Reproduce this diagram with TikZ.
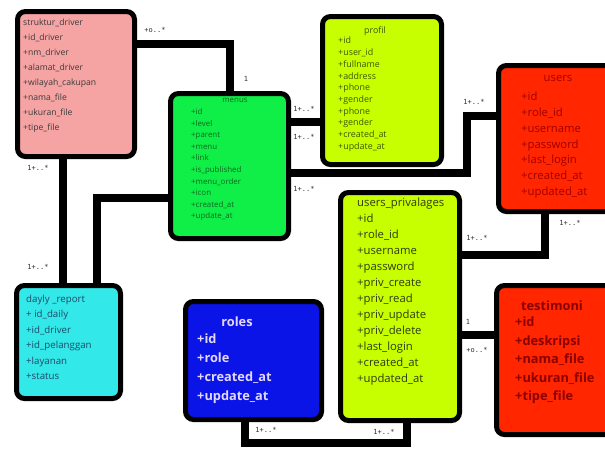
\documentclass[tikz,border=0pt]{standalone}
\usepackage{fontspec}
\setmainfont{Open Sans}
\setmonofont{DejaVu Sans Mono}
\definecolor{sdfill}{HTML}{F5A3A3}
\definecolor{sdtext}{HTML}{3A3A3A}
\definecolor{mnfill}{HTML}{10EE48}
\definecolor{mntext}{HTML}{0B6B1E}
\definecolor{prfill}{HTML}{C8FF00}
\definecolor{prtext}{HTML}{3A5A00}
\definecolor{usfill}{HTML}{FF2600}
\definecolor{ustext}{HTML}{A00000}
\definecolor{tetext}{HTML}{8B0000}
\definecolor{drfill}{HTML}{33E8E8}
\definecolor{drtext}{HTML}{1E4A6A}
\definecolor{rofill}{HTML}{0A14E6}
\definecolor{rotext}{HTML}{E2D8FF}
\definecolor{uptext}{HTML}{2E3A10}
\begin{document}
\begin{tikzpicture}[x=1pt,y=-1pt,
 tbl/.style={draw=black, line width=5pt, rounded corners=8pt, anchor=north west, inner sep=0pt},
 txt/.style={anchor=north west, inner sep=0pt, align=left},
 ttl/.style={anchor=north, inner sep=0pt},
 link/.style={line width=8pt, line cap=butt},
 mult/.style={font=\ttfamily\fontsize{7}{8}\selectfont, inner sep=0pt, text=black!80}]
\useasboundingbox[fill=white] (0,0) rectangle (605,451);

% tables
\node[tbl, fill=sdfill, minimum width=117pt, minimum height=145pt] (sd) at (15,9) {};
\node[tbl, fill=mnfill, minimum width=118pt, minimum height=145pt] (mn) at (168,91) {};
\node[tbl, fill=prfill, minimum width=119pt, minimum height=148pt] (pr) at (320,14) {};
\node[tbl, fill=usfill, minimum width=125pt, minimum height=146pt] (us) at (496,63) {};
\node[tbl, fill=usfill, minimum width=125pt, minimum height=149pt] (te) at (494,283) {};
\node[tbl, fill=drfill, minimum width=104pt, minimum height=113pt] (dr) at (14,283) {};
\node[tbl, fill=rofill, minimum width=136pt, minimum height=118pt] (ro) at (183,299) {};
\node[tbl, fill=prfill, minimum width=119pt, minimum height=228pt] (up) at (338,190) {};

% connectors
\draw[link] (sd.east |- 0,44) -| (mn.north -| 230,0);
\draw[link] (sd.south -| 63,0) -- (dr.north -| 63,0);
\draw[link] (dr.north -| 97,0) |- (mn.west |- 0,198);
\draw[link] (mn.east |- 0,122) -- (pr.west |- 0,122);
\draw[link] (mn.east |- 0,173) -- (467,173) |- (us.west |- 0,116);
\draw[link] (us.south -| 545,0) |- (up.east |- 0,255);
\draw[link] (up.east |- 0,335) -- (te.west |- 0,335);
\draw[link] (ro.south -| 245,0) -- (245,443) -| (up.south -| 407,0);

% texts
\node[txt, text=sdtext, font=\fontsize{8.6}{15}\selectfont] (sdt) at (23,19)
 {struktur\_driver\\+id\_driver\\+nm\_driver\\+alamat\_driver\\+wilayah\_cakupan\\+nama\_file\\+ukuran\_file\\+tipe\_file};
\node[ttl, text=mntext, font=\fontsize{7.9}{11.5}\selectfont] (mnh) at (235,97.5) {menus};
\node[txt, text=mntext, font=\fontsize{7.9}{11.55}\selectfont] (mnt) at (191,108.5)
 {+id\\+level\\+parent\\+menu\\+link\\+is\_published\\+menu\_order\\+icon\\+created\_at\\+update\_at};
\node[ttl, text=prtext, font=\fontsize{8.9}{11.7}\selectfont] (prh) at (375,26) {profil};
\node[txt, text=prtext, font=\fontsize{8.9}{11.7}\selectfont] (prt) at (338,37)
 {+id\\+user\_id\\+fullname\\+address\\+phone\\+gender\\+phone\\+gender\\+created\_at\\+update\_at};
\node[ttl, text=ustext, font=\fontsize{11.3}{15.8}\selectfont] (ush) at (558,75) {users};
\node[txt, text=ustext, font=\fontsize{11.3}{15.8}\selectfont] (ust) at (521,92)
 {+id\\+role\_id\\+username\\+password\\+last\_login\\+created\_at\\+updated\_at};
\node[txt, text=uptext, font=\fontsize{11.3}{16}\selectfont] (upt) at (357,198)
 {users\_privalages\\+id\\+role\_id\\+username\\+password\\+priv\_create\\+priv\_read\\+priv\_update\\+priv\_delete\\+last\_login\\+created\_at\\+updated\_at};
\node[ttl, text=tetext, font=\bfseries\fontsize{12.8}{18.5}\selectfont] (teh) at (552,301) {testimoni};
\node[txt, text=tetext, font=\bfseries\fontsize{12.8}{18.5}\selectfont] (tet) at (515,317)
 {+id\\+deskripsi\\+nama\_file\\+ukuran\_file\\+tipe\_file};
\node[txt, text=drtext, font=\fontsize{9.7}{15.5}\selectfont] (drt) at (26,294.5)
 {dayly \_report\\+ id\_daily\\+id\_driver\\+id\_pelanggan\\+layanan\\+status};
\node[ttl, text=rotext, font=\bfseries\fontsize{12.8}{19}\selectfont] (roh) at (237,317) {roles};
\node[txt, text=rotext, font=\bfseries\fontsize{12.8}{19}\selectfont] (rot) at (197,334)
 {+id\\+role\\+created\_at\\+update\_at};

% multiplicities
\node[mult] (m1) at (155,30) {+o..*};
\node[mult] (m2) at (246,79) {1};
\node[mult] (m3) at (38,168) {1+..*};
\node[mult] (m4) at (38,267) {1+..*};
\node[mult] (m5) at (304,109) {1+..*};
\node[mult] (m6) at (304,137) {1+..*};
\node[mult] (m7) at (304,189) {1+..*};
\node[mult] (m8) at (474,102) {1+..*};
\node[mult] (m9) at (570,223) {1+..*};
\node[mult] (m10) at (477,238) {1+..*};
\node[mult] (m11) at (468,322) {1};
\node[mult] (m12) at (477,350) {+o..*};
\node[mult] (m13) at (266,430) {1+..*};
\node[mult] (m14) at (384,432) {1+..*};
\end{tikzpicture}
\end{document}
